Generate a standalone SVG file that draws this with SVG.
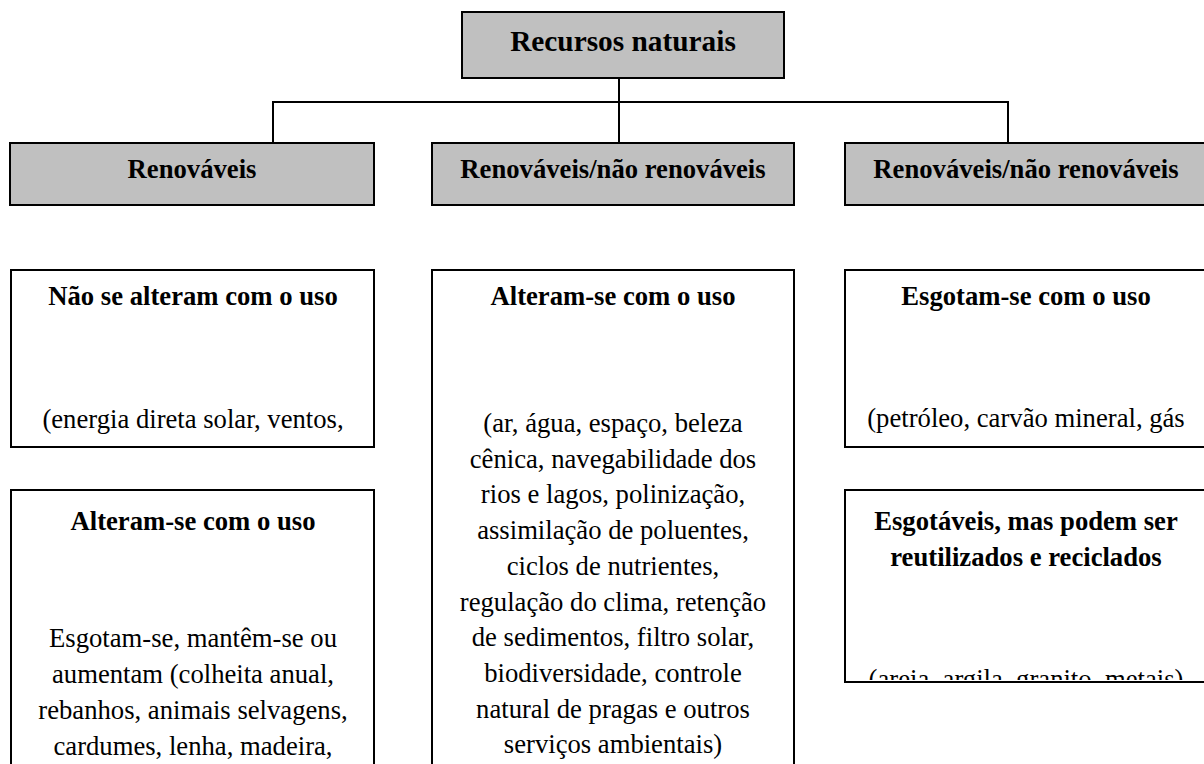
<svg xmlns="http://www.w3.org/2000/svg" width="1204" height="764" viewBox="0 0 1204 764">
<style>
.box{fill:#fff;stroke:#000;stroke-width:2}
.gray{fill:#c0c0c0;stroke:#000;stroke-width:2}
text{font-family:"Liberation Serif","Times New Roman",serif;fill:#000;text-anchor:middle}
.b{font-weight:bold;font-size:26.67px}
.t{font-weight:bold;font-size:29.33px}
.r{font-size:26.67px}
.con{fill:none;stroke:#000;stroke-width:2}
</style>
<defs>
<clipPath id="clipR2"><rect x="846" y="491" width="360" height="189"/></clipPath>
</defs>
<g id="connectors">
<line class="con" x1="619" y1="78" x2="619" y2="143"/>
<polyline class="con" points="273,143 273,102 1008,102 1008,143"/>
</g>
<g id="root">
<rect class="gray" x="462" y="12" width="322" height="66"/>
<text class="t" x="623" y="51">Recursos naturais</text>
</g>
<g id="renovaveis">
<rect class="gray" x="10" y="143" width="364" height="62"/>
<text class="b" x="192" y="178">Renováveis</text>
</g>
<g id="renov-nao-renov-1">
<rect class="gray" x="432" y="143" width="362" height="62"/>
<text class="b" x="613" y="178">Renováveis/não renováveis</text>
</g>
<g id="renov-nao-renov-2">
<rect class="gray" x="845" y="143" width="362" height="62"/>
<text class="b" x="1026" y="178">Renováveis/não renováveis</text>
</g>
<g id="nao-se-alteram">
<rect class="box" x="11" y="270" width="363" height="177"/>
<text class="b" x="193" y="305">Não se alteram com o uso</text>
<text class="r" x="193" y="428">(energia direta solar, ventos,</text>
</g>
<g id="alteram-se-esq">
<rect class="box" x="11" y="490" width="363" height="290"/>
<text class="b" x="193" y="530">Alteram-se com o uso</text>
<text class="r" x="193" y="647">Esgotam-se, mantêm-se ou</text>
<text class="r" x="193" y="683">aumentam (colheita anual,</text>
<text class="r" x="193" y="719">rebanhos, animais selvagens,</text>
<text class="r" x="193" y="755">cardumes, lenha, madeira,</text>
</g>
<g id="alteram-se-meio">
<rect class="box" x="432" y="270" width="362" height="510"/>
<text class="b" x="613" y="305">Alteram-se com o uso</text>
<text class="r" x="613" y="432">(ar, água, espaço, beleza</text>
<text class="r" x="613" y="467.7">cênica, navegabilidade dos</text>
<text class="r" x="613" y="503.4">rios e lagos, polinização,</text>
<text class="r" x="613" y="539.1">assimilação de poluentes,</text>
<text class="r" x="613" y="574.8">ciclos de nutrientes,</text>
<text class="r" x="613" y="610.5">regulação do clima, retenção</text>
<text class="r" x="613" y="646.2">de sedimentos, filtro solar,</text>
<text class="r" x="613" y="681.9">biodiversidade, controle</text>
<text class="r" x="613" y="717.6">natural de pragas e outros</text>
<text class="r" x="613" y="753.3">serviços ambientais)</text>
</g>
<g id="esgotam-se">
<rect class="box" x="845" y="270" width="362" height="177"/>
<text class="b" x="1026" y="305">Esgotam-se com o uso</text>
<text class="r" x="1026" y="427">(petróleo, carvão mineral, gás</text>
</g>
<g id="esgotaveis">
<rect class="box" x="845" y="490" width="362" height="192"/>
<text class="b" x="1026" y="530">Esgotáveis, mas podem ser</text>
<text class="b" x="1026" y="566">reutilizados e reciclados</text>
<text class="r" x="1026" y="688" clip-path="url(#clipR2)">(areia, argila, granito, metais)</text>
</g>
</svg>
